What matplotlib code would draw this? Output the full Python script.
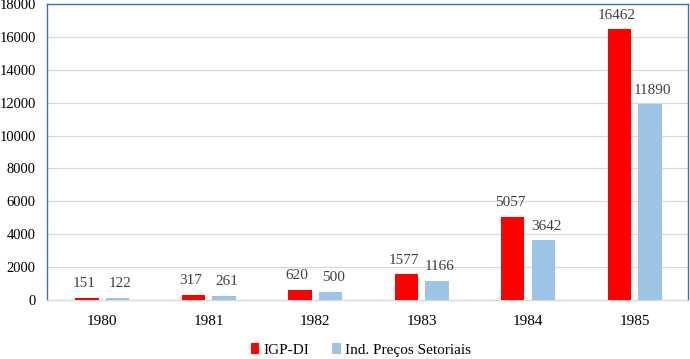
import matplotlib
matplotlib.use("Agg")
import matplotlib.pyplot as plt
import numpy as np

years = ["1980", "1981", "1982", "1983", "1984", "1985"]
igp_di = [151, 317, 620, 1577, 5057, 16462]
ind_precos = [122, 261, 500, 1166, 3642, 11890]
yticks = [0, 2000, 4000, 6000, 8000, 10000, 12000, 14000, 16000, 18000]

plt.rcParams['font.family'] = ['Liberation Serif', 'DejaVu Serif']

fig = plt.figure(figsize=(6.9, 3.59), dpi=100)
ax = fig.add_axes([0.068, 0.164, 0.929, 0.825])

x = np.arange(len(years))
w = 0.22
off = 0.145
b1 = ax.bar(x - off, igp_di, w, color="#FF0000", label="IGP-DI", zorder=3)
b2 = ax.bar(x + off, ind_precos, w, color="#9DC3E6", label="Ind. Preços Setoriais", zorder=3)

for rect, v in zip(b1, igp_di):
    ax.annotate(str(v), (rect.get_x() + rect.get_width() / 2, v), xytext=(-2, 5.5),
                textcoords="offset points", ha="center", va="bottom", fontsize=11, color="#404040")
for rect, v in zip(b2, ind_precos):
    ax.annotate(str(v), (rect.get_x() + rect.get_width() / 2, v), xytext=(2, 5.5),
                textcoords="offset points", ha="center", va="bottom", fontsize=11, color="#404040")

ax.set_xlim(-0.52, 5.5)
ax.set_ylim(0, 18000)
ax.set_yticks(yticks)
ax.set_yticklabels([str(t) for t in yticks], fontsize=10.5)
ax.set_xticks(x)
ax.set_xticklabels(years, fontsize=11)
ax.tick_params(axis='both', length=0)
ax.tick_params(axis='x', pad=11)
ax.tick_params(axis='y', pad=8)
ax.yaxis.grid(True, color="#D9D9D9", linewidth=0.9, zorder=0)
ax.set_axisbelow(True)
for s in ax.spines.values():
    s.set_color("#2E75B6")
    s.set_linewidth(1.0)
ax.spines['bottom'].set_color("#D9D9D9")

ax.legend(loc="center", bbox_to_anchor=(0.49, -0.169), ncol=2, frameon=False,
          fontsize=11, handlelength=0.55, handleheight=0.7, columnspacing=1.5, handletextpad=0.3)

fig.savefig("out.png", dpi=100)
